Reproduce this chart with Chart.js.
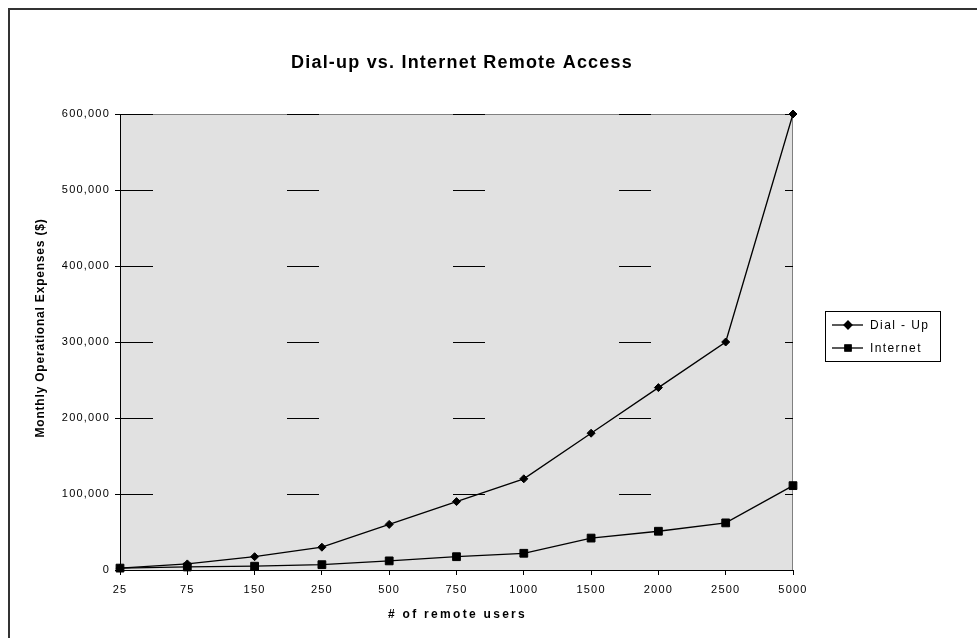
<!DOCTYPE html>
<html>
<head>
<meta charset="utf-8">
<title>Dial-up vs. Internet Remote Access</title>
<script src="https://cdn.jsdelivr.net/npm/chart.js@4.4.1/dist/chart.umd.min.js"></script>
<style>
  html, body { margin: 0; padding: 0; background: #fff; }
  #wrap { width: 977px; height: 638px; }
</style>
</head>
<body>
<div id="wrap"><canvas id="chartCanvas" width="977" height="638"></canvas></div>
<script>
// ---- data ----
const users = ["25", "75", "150", "250", "500", "750", "1000", "1500", "2000", "2500", "5000"];
const dialUp = [2500, 8000, 17500, 30000, 60000, 90000, 120000, 180000, 240000, 300000, 600000];
const internet = [2500, 4000, 5000, 7000, 12000, 17500, 22000, 42000, 51000, 62000, 111000];
const yTicks = [0, 100000, 200000, 300000, 400000, 500000, 600000];

const chartTitle = "Dial-up vs. Internet Remote Access";
const xTitle = "# of remote users";
const yTitle = "Monthly Operational Expenses ($)";

const FONT = "'Liberation Sans', Arial, sans-serif";
Chart.defaults.font.family = FONT;
Chart.defaults.color = "#000";

// plot background + gray frame on top/right (Excel style)
const plotBg = {
  id: "plotBg",
  beforeDraw(chart) {
    const { ctx, chartArea: a } = chart;
    ctx.save();
    ctx.fillStyle = "#e1e1e1";
    ctx.fillRect(a.left, a.top, a.right - a.left, a.bottom - a.top);
    ctx.strokeStyle = "#808080";
    ctx.lineWidth = 1;
    ctx.beginPath();
    ctx.moveTo(a.left, a.top + 0.5);
    ctx.lineTo(a.right - 0.5, a.top + 0.5);
    ctx.lineTo(a.right - 0.5, a.bottom);
    ctx.stroke();
    ctx.restore();
    // old Excel text is set a little loose
    ctx.letterSpacing = "1.2px";
  }
};

// titles, boxed legend and outer frame
const decor = {
  id: "decor",
  afterDraw(chart) {
    const { ctx, chartArea: a } = chart;
    ctx.save();
    ctx.fillStyle = "#000";
    ctx.textAlign = "center";
    ctx.textBaseline = "middle";

    ctx.letterSpacing = "1.2px";
    ctx.font = "bold 18px " + FONT;
    ctx.fillText(chartTitle, 462, 63);

    ctx.letterSpacing = "2.3px";
    ctx.font = "bold 12px " + FONT;
    ctx.fillText(xTitle, (a.left + a.right) / 2 + 1, 615);

    ctx.letterSpacing = "0.8px";
    ctx.save();
    ctx.translate(41, 328);
    ctx.rotate(-Math.PI / 2);
    ctx.fillText(yTitle, 0, 0);
    ctx.restore();

    // outer frame (only top and left are inside the picture)
    ctx.strokeStyle = "#333";
    ctx.lineWidth = 2;
    ctx.beginPath();
    ctx.moveTo(9, 638);
    ctx.lineTo(9, 9);
    ctx.lineTo(977, 9);
    ctx.stroke();

    // legend
    const x = 825, y = 311, w = 115, h = 50;
    ctx.lineWidth = 1;
    ctx.strokeStyle = "#000";
    ctx.strokeRect(x + 0.5, y + 0.5, w, h);

    ctx.letterSpacing = "1.4px";
    ctx.font = "12px " + FONT;
    ctx.textAlign = "left";
    chart.data.datasets.forEach((ds, i) => {
      const ly = y + 14 + i * 23;
      ctx.beginPath();
      ctx.lineWidth = 1.3;
      ctx.moveTo(x + 7, ly);
      ctx.lineTo(x + 38, ly);
      ctx.stroke();
      Chart.helpers.drawPoint(ctx, {
        pointStyle: ds.pointStyle,
        radius: ds.pointStyle === "rect" ? 4.5 : 4,
        rotation: 0,
        borderWidth: 1
      }, x + 23, ly);
      ctx.fill();
      ctx.fillText(ds.label, x + 45, ly + 1);
    });
    ctx.restore();
  }
};

new Chart(document.getElementById("chartCanvas"), {
  type: "line",
  data: {
    labels: users,
    datasets: [
      {
        label: "Dial - Up",
        data: dialUp,
        borderColor: "#000",
        backgroundColor: "#000",
        borderWidth: 1.3,
        pointStyle: "rectRot",
        pointRadius: 4,
        pointBorderWidth: 1,
        tension: 0,
        clip: false
      },
      {
        label: "Internet",
        data: internet,
        borderColor: "#000",
        backgroundColor: "#000",
        borderWidth: 1.3,
        pointStyle: "rect",
        pointRadius: 5.5,
        pointBorderWidth: 1,
        tension: 0,
        clip: false
      }
    ]
  },
  options: {
    responsive: false,
    animation: false,
    layout: { padding: { left: 0, right: 184, top: 114, bottom: 0 } },
    plugins: {
      legend: { display: false },
      tooltip: { enabled: false },
      title: { display: false }
    },
    scales: {
      x: {
        offset: false,
        grid: { drawOnChartArea: false, drawTicks: true, tickLength: 5, color: "#000" },
        border: { color: "#000", width: 1 },
        ticks: { padding: 8, font: { size: 11 }, maxRotation: 0, autoSkip: false },
        afterFit(s) { s.height = 68; }
      },
      y: {
        min: 0,
        max: 600000,
        afterBuildTicks(s) { s.ticks = yTicks.map(v => ({ value: v })); },
        grid: {
          color: "#000",
          lineWidth: 1,
          tickLength: 5,
          tickColor: "#000",
          tickBorderDash: []
        },
        border: { color: "#000", width: 1, dash: [32, 134] },
        ticks: {
          padding: 5,
          font: { size: 11 },
          callback: v => v.toLocaleString("en-US")
        },
        afterFit(s) { s.width = 120; }
      }
    }
  },
  plugins: [plotBg, decor]
});
</script>
</body>
</html>
